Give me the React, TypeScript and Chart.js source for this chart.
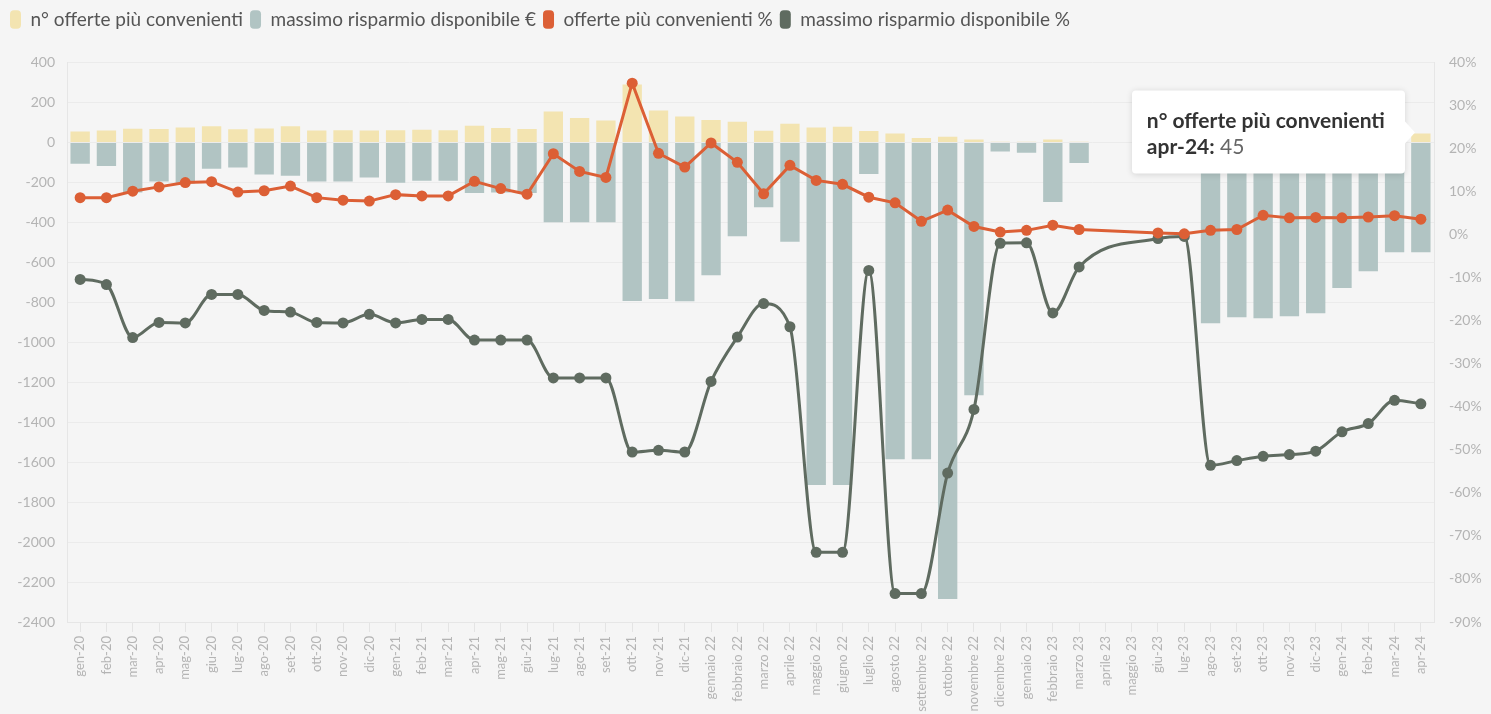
import React, { useEffect, useRef } from "react";
import { Chart, registerables } from "chart.js";

Chart.register(...registerables);

const categories = [
  "gen-20", "feb-20", "mar-20", "apr-20", "mag-20", "giu-20", "lug-20", "ago-20", "set-20", "ott-20", "nov-20", "dic-20",
  "gen-21", "feb-21", "mar-21", "apr-21", "mag-21", "giu-21", "lug-21", "ago-21", "set-21", "ott-21", "nov-21", "dic-21",
  "gennaio 22", "febbraio 22", "marzo 22", "aprile 22", "maggio 22", "giugno 22", "luglio 22", "agosto 22", "settembre 22", "ottobre 22", "novembre 22", "dicembre 22",
  "gennaio 23", "febbraio 23", "marzo 23", "aprile 23", "maggio 23", "giu-23", "lug-23", "ago-23", "set-23", "ott-23", "nov-23", "dic-23",
  "gen-24", "feb-24", "mar-24", "apr-24",
];

const nOfferte = [
  55, 60, 68, 67, 75, 81, 66, 70, 81, 60, 61, 60,
  61, 63, 61, 83, 72, 67, 155, 122, 110, 290, 160, 130,
  112, 103, 58, 93, 75, 78, 57, 45, 22, 28, 15, 3,
  3, 15, 3, null, null, 5, 3, 12, 15, 56, 49, 50,
  49, 51, 55, 45,
];

const risparmioEuro = [
  -107, -118, -250, -195, -205, -132, -125, -160, -167, -195, -195, -175,
  -202, -192, -192, -253, -250, -253, -400, -400, -400, -793, -783, -795,
  -665, -470, -325, -497, -1715, -1715, -158, -1585, -1585, -2285, -1265, -45,
  -52, -298, -103, null, null, -20, -10, -905, -875, -880, -870, -855,
  -728, -645, -550, -550,
];

const offertePct = [
  8.6, 8.6, 10.1, 11.1, 12.1, 12.3, 9.9, 10.2, 11.3, 8.6, 8.0, 7.8,
  9.3, 9.0, 9.0, 12.4, 10.7, 9.4, 18.8, 14.7, 13.3, 35.2, 18.9, 15.7,
  21.3, 16.8, 9.5, 16.1, 12.6, 11.7, 8.7, 7.4, 3.1, 5.7, 1.9, 0.6,
  1.0, 2.2, 1.2, null, null, 0.4, 0.2, 1.0, 1.2, 4.5, 3.9, 4.0,
  3.9, 4.1, 4.4, 3.6,
];

const risparmioPct = [
  -10.4, -11.6, -23.9, -20.4, -20.5, -13.9, -13.9, -17.6, -18.0, -20.4, -20.5, -18.5,
  -20.5, -19.7, -19.7, -24.5, -24.5, -24.5, -33.3, -33.3, -33.3, -50.5, -50.1, -50.5,
  -34.1, -23.8, -16.0, -21.4, -73.8, -73.8, -8.3, -83.4, -83.4, -55.4, -40.6, -2.0,
  -1.9, -18.2, -7.5, null, null, -0.9, -0.4, -53.6, -52.5, -51.5, -51.1, -50.3,
  -45.8, -43.9, -38.5, -39.3,
];

const seriesLabels = [
  "n° offerte più convenienti",
  "massimo risparmio disponibile €",
  "offerte più convenienti %",
  "massimo risparmio disponibile %",
];

const YELLOW = "#f3e4b1";
const TEAL = "#b1c4c3";
const ORANGE = "#dc5f35";
const GRAY = "#5f6b60";
const seriesColors = [YELLOW, TEAL, ORANGE, GRAY];

const FONT = "Lato, 'Noto Sans', sans-serif";
const TICK_COLOR = "#b4b4b4";

export default function App() {
  const canvasRef = useRef<HTMLCanvasElement>(null);
  const tipRef = useRef<HTMLDivElement>(null);

  useEffect(() => {
    document.body.style.margin = "0";
    document.body.style.background = "#f5f5f5";
    const canvas = canvasRef.current;
    if (!canvas) return;

    const external = (context: any) => {
      const el = tipRef.current;
      if (!el) return;
      const tooltip = context.tooltip;
      if (!tooltip || tooltip.opacity === 0 || !tooltip.dataPoints || !tooltip.dataPoints.length) {
        el.style.opacity = "0";
        return;
      }
      const dp = tooltip.dataPoints[0];
      el.innerHTML =
        `<div style="font-weight:700;color:#333;font-size:21px;line-height:26px;white-space:nowrap">${dp.dataset.label}</div>` +
        `<div style="font-size:21px;line-height:26px;color:#666;white-space:nowrap"><span style="font-weight:700;color:#333">${dp.label}:</span> ${dp.formattedValue}</div>` +
        `<div style="position:absolute;right:-10px;top:50%;margin-top:-11px;width:0;height:0;border-top:11px solid transparent;border-bottom:11px solid transparent;border-left:10px solid #fff"></div>`;
      el.style.opacity = "1";
      el.style.left = tooltip.caretX - 16 + "px";
      el.style.top = tooltip.caretY - 1 + "px";
    };

    const chart = new Chart(canvas, {
      type: "bar",
      data: {
        labels: categories,
        datasets: [
          {
            type: "bar",
            label: seriesLabels[0],
            data: nOfferte,
            backgroundColor: YELLOW,
            xAxisID: "x",
            yAxisID: "y",
            order: 3,
            categoryPercentage: 0.8,
            barPercentage: 0.92,
          },
          {
            type: "bar",
            label: seriesLabels[1],
            data: risparmioEuro,
            backgroundColor: TEAL,
            xAxisID: "x",
            yAxisID: "y",
            order: 2,
            categoryPercentage: 0.8,
            barPercentage: 0.92,
          },
          {
            type: "line",
            label: seriesLabels[2],
            data: offertePct,
            borderColor: ORANGE,
            backgroundColor: ORANGE,
            pointBackgroundColor: ORANGE,
            pointBorderWidth: 0,
            pointRadius: 5.5,
            borderWidth: 3,
            tension: 0,
            spanGaps: true,
            xAxisID: "x",
            yAxisID: "y1",
            order: 0,
          },
          {
            type: "line",
            label: seriesLabels[3],
            data: risparmioPct,
            borderColor: GRAY,
            backgroundColor: GRAY,
            pointBackgroundColor: GRAY,
            pointBorderWidth: 0,
            pointRadius: 5.5,
            borderWidth: 3,
            cubicInterpolationMode: "monotone",
            spanGaps: true,
            xAxisID: "x",
            yAxisID: "y1",
            order: 1,
          },
        ] as any,
      },
      options: {
        animation: false,
        responsive: true,
        maintainAspectRatio: false,
        events: [],
        layout: { padding: { top: 3, left: 3, right: 0, bottom: 0 } },
        plugins: {
          legend: {
            position: "top",
            align: "start",
            labels: {
              font: { family: FONT, size: 19 },
              color: "#555",
              boxWidth: 11,
              boxHeight: 18.5,
              padding: 7,
              useBorderRadius: true,
              borderRadius: 4,
              generateLabels: (ch: any) =>
                ch.data.datasets.map((ds: any, i: number) => ({
                  text: ds.label,
                  fillStyle: seriesColors[i],
                  strokeStyle: seriesColors[i],
                  lineWidth: 0,
                  fontColor: "#555",
                  hidden: false,
                  datasetIndex: i,
                  borderRadius: 4,
                })),
            },
          },
          tooltip: {
            enabled: false,
            external,
            callbacks: {
              title: (items: any) => items[0].dataset.label,
            },
          },
        },
        scales: {
          x: {
            type: "category",
            position: "bottom",
            stacked: true,
            offset: true,
            grid: {
              display: true,
              drawOnChartArea: false,
              drawTicks: true,
              tickLength: 10,
              offset: false,
              color: "#e4e4e4",
            },
            border: { display: true, color: "#e6e6e6" },
            ticks: {
              autoSkip: false,
              minRotation: 90,
              maxRotation: 90,
              color: TICK_COLOR,
              font: { family: FONT, size: 13 },
              padding: 4,
            },
            afterFit: (s: any) => {
              s.height = 92;
            },
          },
          xTop: {
            type: "category",
            axis: "x",
            position: "top",
            display: true,
            grid: { display: false },
            border: { display: false },
            ticks: { display: false },
            afterFit: (s: any) => {
              s.height = 23.5;
            },
          },
          y: {
            type: "linear",
            position: "left",
            min: -2400,
            max: 400,
            stacked: false,
            ticks: {
              stepSize: 200,
              color: TICK_COLOR,
              font: { family: FONT, size: 14 },
              padding: 12,
              callback: (v: any) => String(v),
            },
            grid: { color: "#ebebeb", drawTicks: false },
            border: { display: true, color: "#e6e6e6" },
            afterFit: (s: any) => {
              s.width = 64;
            },
          },
          y1: {
            type: "linear",
            position: "right",
            min: -90,
            max: 40,
            ticks: {
              stepSize: 10,
              color: TICK_COLOR,
              font: { family: FONT, size: 14 },
              padding: 15,
              callback: (v: any) => v + "%",
            },
            grid: { drawOnChartArea: false, drawTicks: false },
            border: { display: true, color: "#e6e6e6" },
            afterFit: (s: any) => {
              s.width = 57;
            },
          },
        } as any,
      },
    });

    chart.tooltip?.setActiveElements([{ datasetIndex: 0, index: 51 }], { x: 0, y: 0 });
    chart.update();

    return () => {
      chart.destroy();
    };
  }, []);

  return (
    <div style={{ position: "relative", width: 1491, height: 714, background: "#f5f5f5", overflow: "hidden" }}>
      <canvas ref={canvasRef} />
      <div
        ref={tipRef}
        style={{
          position: "absolute",
          opacity: 0,
          pointerEvents: "none",
          transform: "translate(-100%, -50%)",
          background: "#fff",
          borderRadius: 4,
          boxShadow: "0 1px 6px rgba(0,0,0,0.13)",
          padding: "15.5px 12px 15.5px 15px",
          fontFamily: FONT,
          boxSizing: "border-box",
          width: 273,
        }}
      />
    </div>
  );
}
